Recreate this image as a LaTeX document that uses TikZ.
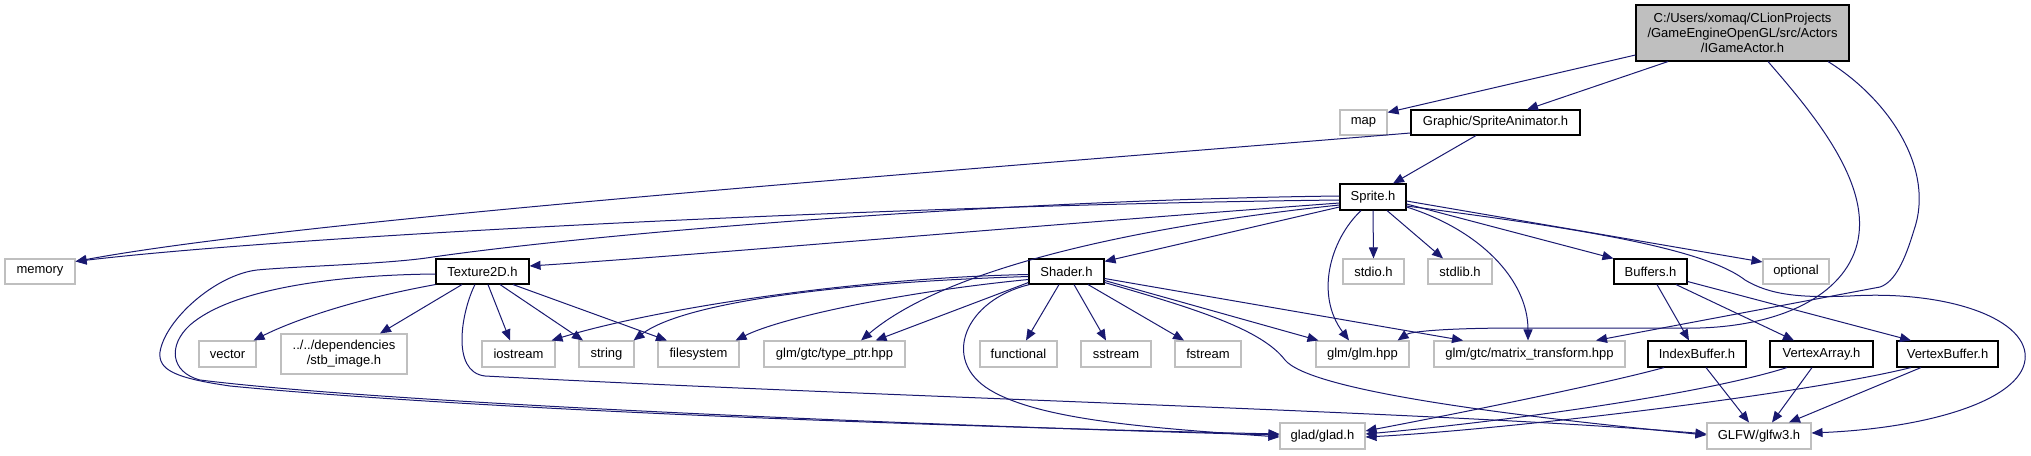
\documentclass[tikz,border=0pt]{standalone}
\usepackage{fontspec}
\setmainfont{Liberation Sans}
\usetikzlibrary{arrows.meta}
\definecolor{edgeblue}{HTML}{191970}
\definecolor{grayline}{HTML}{BFBFBF}
\begin{document}
\begin{tikzpicture}[x=1pt,y=-1pt,
  box/.style={draw=black, line width=1.1pt, fill=white, inner sep=0pt, font=\fontsize{13}{15}\selectfont, align=center, minimum height=25pt},
  gbox/.style={box, draw=grayline},
  rootbox/.style={box, fill=grayline},
  dep/.style={draw=edgeblue, line width=1pt, -{Triangle[length=11pt,width=9pt]}}]
\useasboundingbox (0,0) rectangle (2031,455);

% nodes
\node[rootbox, minimum width=213pt, minimum height=56pt] (root) at (1742.5,33) {C:/Users/xomaq/CLionProjects\\/GameEngineOpenGL/src/Actors\\/IGameActor.h};
\node[gbox, minimum width=47pt] (map) at (1363.5,122.5) {map};
\node[box, minimum width=169pt] (SA) at (1495.5,122.5) {Graphic/SpriteAnimator.h};
\node[box, minimum width=66pt, minimum height=26pt] (sprite) at (1373,197) {Sprite.h};
\node[gbox, minimum width=70pt] (memory) at (40,271.5) {memory};
\node[box, minimum width=93pt] (tex) at (482.5,271.5) {Texture2D.h};
\node[box, minimum width=75pt] (shader) at (1066.5,271.5) {Shader.h};
\node[gbox, minimum width=61pt] (stdio) at (1373.5,271.5) {stdio.h};
\node[gbox, minimum width=64pt] (stdlib) at (1460,271.5) {stdlib.h};
\node[box, minimum width=73pt] (buffers) at (1650.5,271.5) {Buffers.h};
\node[gbox, minimum width=66pt] (optional) at (1796,271.5) {optional};
\node[gbox, minimum width=57pt, minimum height=26pt] (vector) at (227.5,354) {vector};
\node[gbox, minimum width=126pt, minimum height=40pt] (stb) at (344,354) {../../dependencies\\/stb\_image.h};
\node[gbox, minimum width=73pt, minimum height=26pt] (iostream) at (518.5,354) {iostream};
\node[gbox, minimum width=55pt, minimum height=26pt] (string) at (606.5,354) {string};
\node[gbox, minimum width=81pt, minimum height=26pt] (filesystem) at (698.5,354) {filesystem};
\node[gbox, minimum width=141pt, minimum height=26pt] (typeptr) at (834.5,354) {glm/gtc/type\_ptr.hpp};
\node[gbox, minimum width=77pt, minimum height=26pt] (functional) at (1018.5,354) {functional};
\node[gbox, minimum width=70pt, minimum height=26pt] (sstream) at (1116,354) {sstream};
\node[gbox, minimum width=66pt, minimum height=26pt] (fstream) at (1208,354) {fstream};
\node[gbox, minimum width=93pt, minimum height=26pt] (glm) at (1362.5,354) {glm/glm.hpp};
\node[gbox, minimum width=191pt, minimum height=26pt] (matrix) at (1529.5,354) {glm/gtc/matrix\_transform.hpp};
\node[box, minimum width=98pt, minimum height=26pt] (ib) at (1697,354) {IndexBuffer.h};
\node[box, minimum width=103pt, minimum height=26pt] (va) at (1821.5,354) {VertexArray.h};
\node[box, minimum width=101pt, minimum height=26pt] (vb) at (1947.5,354) {VertexBuffer.h};
\node[gbox, minimum width=85pt, minimum height=26pt] (glad) at (1322.5,436) {glad/glad.h};
\node[gbox, minimum width=104pt, minimum height=26pt] (glfw) at (1759,436) {GLFW/glfw3.h};

% root edges
\draw[dep] ([yshift=-22pt]root.west) -- ([yshift=-3pt]map.north east);
\draw[dep] ([xshift=-74.5pt]root.south) -- ([xshift=31.5pt]SA.north);
\draw[dep] ([xshift=25.5pt]root.south) .. controls (1810,110) and (1870,180) .. (1858,240) .. controls (1848,290) and (1790,325) .. (1700,328) -- (1520,328) .. controls (1440,328) and (1410,332) .. ([xshift=-12pt]glm.north east);
\draw[dep] ([xshift=85.5pt]root.south) .. controls (1890,100) and (1935,170) .. (1914,230) .. controls (1905,260) and (1895,282) .. (1880,287) -- ([xshift=66.5pt]matrix.north);

% SpriteAnimator edges
\draw[dep] ([yshift=-10.5pt]SA.west) .. controls (900,175) and (300,220) .. ([yshift=-3pt]memory.north east);
\draw[dep] ([xshift=-19.5pt]SA.south) -- ([xshift=20pt]sprite.north);

% Sprite edges
\draw[dep] ([yshift=-3pt]sprite.west) .. controls (900,205) and (300,235) .. ([yshift=-3pt]memory.north east);
\draw[dep] ([yshift=1pt]sprite.west) .. controls (1000,200) and (600,233) .. (433,257) .. controls (390,264) and (300,266) .. (257,270) .. controls (215,275) and (165,320) .. (160,352) .. controls (158,370) and (175,378) .. (230,386) .. controls (500,412) and (1000,428) .. ([yshift=2pt]glad.west);
\draw[dep] ([yshift=-6pt]sprite.west) .. controls (1000,228) and (700,255) .. ([yshift=5.5pt]tex.east);
\draw[dep] ([yshift=-8pt]sprite.west) .. controls (1150,225) and (950,265) .. ([xshift=26.5pt]typeptr.north);
\draw[dep] ([yshift=-10pt]sprite.west) -- ([yshift=-3pt]shader.north east);
\draw[dep] (sprite.south) -- (stdio.north);
\draw[dep] ([xshift=14pt]sprite.south) -- ([xshift=-17pt]stdlib.north);
\draw[dep] ([xshift=-12pt]sprite.south) .. controls (1330,240) and (1315,295) .. ([xshift=-13.5pt]glm.north);
\draw[dep] ([yshift=-10pt]sprite.east) .. controls (1480,230) and (1528,280) .. ([xshift=-1.5pt]matrix.north);
\draw[dep] ([yshift=-7pt]sprite.east) -- (buffers.north west);
\draw[dep] ([yshift=-4pt]sprite.east) -- ([yshift=9.5pt]optional.west);
\draw[dep] ([yshift=-9pt]sprite.east) .. controls (1550,225) and (1700,245) .. (1745,280) .. controls (1770,295) and (1800,298) .. (1850,296) .. controls (1950,290) and (2030,320) .. (2025,360) .. controls (2020,400) and (1930,428) .. ([yshift=3pt]glfw.east);

% Texture2D edges
\draw[dep] ([yshift=-2.5pt]tex.west) .. controls (330,275) and (230,290) .. (190,325) .. controls (168,345) and (170,372) .. (200,380) .. controls (400,405) and (1000,428) .. ([yshift=1pt]glad.west);
\draw[dep] (tex.south west) .. controls (350,300) and (290,322) .. ([xshift=-3pt]vector.north east);
\draw[dep] ([xshift=-20.5pt]tex.south) -- ([xshift=36pt]stb.north);
\draw[dep] ([xshift=5.5pt]tex.south) -- ([xshift=-8.5pt]iostream.north);
\draw[dep] ([xshift=17.5pt]tex.south) -- ([xshift=-23.5pt]string.north);
\draw[dep] ([xshift=30.5pt]tex.south) -- ([xshift=-31.5pt]filesystem.north);
\draw[dep] ([xshift=-7.5pt]tex.south) .. controls (462,310) and (450,372) .. (485,376) .. controls (900,398) and (1450,412) .. ([yshift=2pt]glfw.west);

% Shader edges
\draw[dep] ([yshift=-3pt]shader.west) .. controls (850,278) and (650,310) .. ([xshift=-4pt]iostream.north east);
\draw[dep] ([yshift=-5pt]shader.west) .. controls (820,283) and (680,305) .. ([xshift=-1pt]string.north east);
\draw[dep] ([yshift=-8pt]shader.west) .. controls (900,292) and (780,318) .. ([xshift=-4pt]filesystem.north east);
\draw[dep] ([yshift=-11pt]shader.west) -- ([xshift=-30pt]typeptr.north east);
\draw[dep] ([xshift=-7.5pt]shader.south) -- ([xshift=7.5pt]functional.north);
\draw[dep] ([xshift=7.5pt]shader.south) -- ([xshift=-10pt]sstream.north);
\draw[dep] ([xshift=21.5pt]shader.south) -- ([xshift=-24pt]fstream.north);
\draw[dep] ([yshift=-9pt]shader.east) -- ([xshift=3pt]glm.north west);
\draw[dep] ([yshift=-7pt]shader.east) -- ([xshift=-66.5pt]matrix.north);
\draw[dep] ([xshift=1pt]shader.south west) .. controls (965,300) and (940,360) .. (990,390) .. controls (1040,420) and (1150,428) .. ([yshift=-1pt]glad.west);
\draw[dep] ([yshift=-11pt]shader.east) .. controls (1200,310) and (1262,330) .. (1285,360) .. controls (1310,390) and (1500,415) .. ([yshift=1pt]glfw.west);

% Buffers edges
\draw[dep] ([xshift=6.5pt]buffers.south) -- ([xshift=-8pt]ib.north);
\draw[dep] ([xshift=25.5pt]buffers.south) -- ([xshift=-27.5pt]va.north);
\draw[dep] ([yshift=-10pt]buffers.east) -- ([xshift=-36.5pt]vb.north);

% buffer classes
\draw[dep] ([xshift=-33pt]ib.south) .. controls (1600,385) and (1450,415) .. ([yshift=5pt]glad.east);
\draw[dep] ([xshift=9pt]ib.south) -- ([xshift=-10pt]glfw.north);
\draw[dep] ([xshift=-34.5pt]va.south) .. controls (1700,395) and (1500,422) .. ([yshift=2pt]glad.east);
\draw[dep] ([xshift=-9.5pt]va.south) -- ([xshift=13pt]glfw.north);
\draw[dep] ([xshift=-36.5pt]vb.south) .. controls (1800,395) and (1500,430) .. ([yshift=-1pt]glad.east);
\draw[dep] ([xshift=-26.5pt]vb.south) -- ([xshift=30pt]glfw.north);
\end{tikzpicture}
\end{document}
